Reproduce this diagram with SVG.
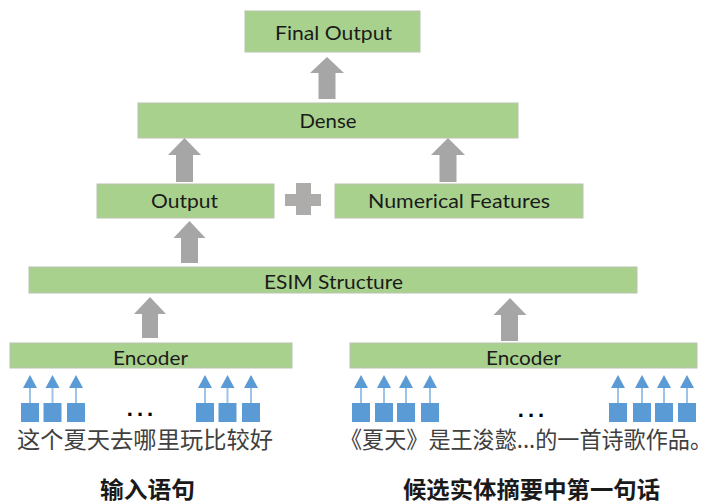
<svg xmlns="http://www.w3.org/2000/svg" xmlns:xlink="http://www.w3.org/1999/xlink" width="718" height="504" viewBox="0 0 718 504">
  <style>
    .box { fill: #A9D18E; stroke: #B8C4AE; stroke-width: 1; }
    .lbl { font-family: Lato, "Open Sans", "Liberation Sans", sans-serif; font-size: 20px; fill: #1A1A1A; text-anchor: middle; }
    .big { fill: #A6A6A6; }
    .plus { fill: #AEABAB; }
    .cn { font-family: "Noto Sans CJK SC", sans-serif; font-size: 23px; fill: #404040; }
    .cap { font-family: "Noto Sans CJK SC", sans-serif; font-size: 23px; font-weight: bold; fill: #1A1A1A; }
    .dots { font-family: "Liberation Sans", sans-serif; font-size: 22px; font-weight: bold; fill: #000; letter-spacing: 4px; text-anchor: middle; }
  </style>
  <defs>
    <!-- one input token: square with a small upward arrow -->
    <g id="tok">
      <line x1="0" y1="387" x2="0" y2="403" stroke="#9DC3E6" stroke-width="2"/>
      <polygon points="0,375 7,388 -7,388" fill="#5B9BD5"/>
      <rect x="-9" y="403" width="18" height="19" fill="#5B9BD5"/>
    </g>
  </defs>

  <rect width="718" height="504" fill="#FFFFFF"/>

  <g id="final-output">
    <rect class="box" x="245" y="11" width="175" height="41"/>
    <text class="lbl" x="333.5" y="40" textLength="117" lengthAdjust="spacingAndGlyphs">Final Output</text>
  </g>

  <g id="dense">
    <rect class="box" x="138" y="103" width="380" height="35"/>
    <text class="lbl" x="328" y="128" textLength="57" lengthAdjust="spacingAndGlyphs">Dense</text>
  </g>

  <g id="output">
    <rect class="box" x="97" y="184" width="177" height="34"/>
    <text class="lbl" x="184.5" y="208" textLength="67" lengthAdjust="spacingAndGlyphs">Output</text>
  </g>

  <g id="plus">
    <rect class="plus" x="296" y="183" width="15" height="32"/>
    <rect class="plus" x="285" y="194" width="36" height="12"/>
  </g>

  <g id="numerical-features">
    <rect class="box" x="335" y="184" width="248" height="34"/>
    <text class="lbl" x="459" y="208" textLength="182" lengthAdjust="spacingAndGlyphs">Numerical Features</text>
  </g>

  <g id="esim">
    <rect class="box" x="29" y="267" width="608" height="26"/>
    <text class="lbl" x="333.5" y="289" textLength="139" lengthAdjust="spacingAndGlyphs">ESIM Structure</text>
  </g>

  <g id="encoder-left">
    <rect class="box" x="10" y="343" width="282" height="25"/>
    <text class="lbl" x="150.5" y="365" textLength="75" lengthAdjust="spacingAndGlyphs">Encoder</text>
  </g>

  <g id="encoder-right">
    <rect class="box" x="350" y="343" width="347" height="25"/>
    <text class="lbl" x="523.5" y="365" textLength="75" lengthAdjust="spacingAndGlyphs">Encoder</text>
  </g>

  <g id="connectors">
    <path class="big" d="M327,57 L344,73 L335.5,73 L335.5,99 L318.5,99 L318.5,73 L310,73 Z"/>
    <path class="big" d="M184.5,138 L201,155 L193,155 L193,182 L176,182 L176,155 L168,155 Z"/>
    <path class="big" d="M448,138 L465,155 L456.5,155 L456.5,182 L439.5,182 L439.5,155 L431,155 Z"/>
    <path class="big" d="M189.5,221 L205.5,238 L198,238 L198,263 L181,263 L181,238 L173.5,238 Z"/>
    <path class="big" d="M150,297 L166,314 L158,314 L158,338 L142,338 L142,314 L134,314 Z"/>
    <path class="big" d="M510,298 L526.5,315 L518,315 L518,341 L501,341 L501,315 L493.5,315 Z"/>
  </g>

  <g id="tokens-left">
    <use xlink:href="#tok" x="30"/>
    <use xlink:href="#tok" x="52.5"/>
    <use xlink:href="#tok" x="76"/>
    <text class="dots" x="142" y="416">...</text>
    <use xlink:href="#tok" x="205"/>
    <use xlink:href="#tok" x="227.5"/>
    <use xlink:href="#tok" x="251"/>
  </g>

  <g id="tokens-right">
    <use xlink:href="#tok" x="361"/>
    <use xlink:href="#tok" x="384"/>
    <use xlink:href="#tok" x="406"/>
    <use xlink:href="#tok" x="430"/>
    <text class="dots" x="533" y="417">...</text>
    <use xlink:href="#tok" x="618"/>
    <use xlink:href="#tok" x="642"/>
    <use xlink:href="#tok" x="664"/>
    <use xlink:href="#tok" x="687"/>
  </g>

  <g id="sentence-left">
    <text class="cn" x="17" y="448" textLength="256" lengthAdjust="spacingAndGlyphs">这个夏天去哪里玩比较好</text>
    <text class="cap" x="100" y="498" textLength="95" lengthAdjust="spacingAndGlyphs">输入语句</text>
  </g>

  <g id="sentence-right">
    <text class="cn" x="340" y="448" font-size="21.5" textLength="372" lengthAdjust="spacingAndGlyphs">《夏天》是王浚懿...的一首诗歌作品。</text>
    <text class="cap" x="403" y="498" textLength="257" lengthAdjust="spacingAndGlyphs">候选实体摘要中第一句话</text>
  </g>
</svg>
